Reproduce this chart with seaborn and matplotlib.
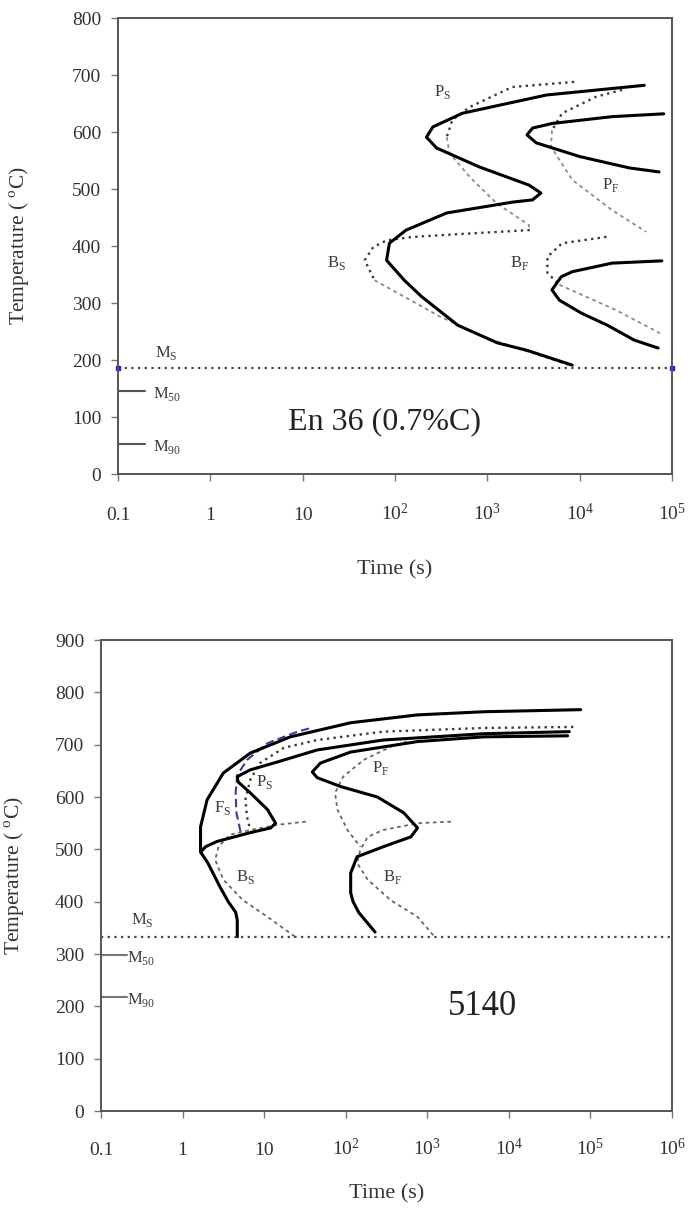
import matplotlib
matplotlib.use("Agg")
import matplotlib.pyplot as plt
from matplotlib.ticker import NullLocator
import seaborn as sns

# ---- En 36 (0.7%C) : time in s, temperature in C ----
en36_ps_bs_solid_t = [50100, 4370, 537, 257, 219, 282, 813, 2820, 3800, 3090, 1860, 363,
                      132, 87, 81, 126, 195, 479, 1290, 2690, 8320]
en36_ps_bs_solid_T = [682, 665, 633, 609, 591, 572, 539, 507, 493, 481, 477, 458,
                      428, 405, 375, 340, 311, 261, 230, 217, 191]

en36_ps_dot_t = [8710, 1860, 646, 417, 363]
en36_ps_dot_T = [688, 679, 644, 621, 591]
en36_ps_dot_low_t = [363, 389, 646, 1260, 2820, 2880]
en36_ps_dot_low_T = [591, 563, 521, 475, 437, 428]

en36_bs_dot_t = [2880, 813, 155, 81, 58, 47, 60]
en36_bs_dot_T = [428, 423, 416, 410, 398, 375, 340]
en36_bs_dot_low_t = [60, 309, 933, 7590]
en36_bs_dot_low_T = [340, 276, 240, 191]

en36_pf_solid_t = [81300, 22400, 5010, 3090, 2690, 3390, 10000, 34700, 72400]
en36_pf_solid_T = [632, 627, 615, 607, 595, 581, 557, 537, 530]

en36_pf_dot_t = [28800, 15100, 6460, 5010]
en36_pf_dot_T = [674, 662, 633, 603]
en36_pf_dot_low_t = [5010, 4900, 8320, 22400, 52500]
en36_pf_dot_low_T = [603, 574, 516, 463, 425]

en36_bf_dot_t = [19500, 6460, 4470, 4470, 6030]
en36_bf_dot_T = [416, 405, 381, 353, 332]
en36_bf_dot_low_t = [6030, 24500, 74100]
en36_bf_dot_low_T = [332, 288, 247]

en36_bf_solid_t = [77600, 22400, 8320, 6310, 5010, 6030, 10500, 20000, 38900, 70800]
en36_bf_solid_T = [374, 370, 355, 346, 323, 305, 282, 261, 235, 221]

en36_ms, en36_m50, en36_m90 = 186, 146, 53

# ---- 5140 ----
s5140_fs_solid_t = [75900, 4900, 759, 115, 20.9, 6.76, 3.16, 2.0, 1.66, 1.66,
                    2.04, 2.88, 3.63, 4.47, 4.68, 4.68]
s5140_fs_solid_T = [767, 763, 757, 742, 715, 684, 646, 595, 543, 495,
                    474, 428, 400, 380, 365, 333]

s5140_ps_solid_t = [55000, 4900, 288, 44.7, 14.5, 6.76, 4.68, 4.79, 6.76, 11.0,
                    13.8, 12.0, 6.76, 2.63, 1.91, 1.66]
s5140_ps_solid_T = [725, 721, 709, 690, 667, 652, 639, 629, 608, 576,
                    550, 541, 532, 515, 505, 495]

s5140_pf_solid_t = [52500, 4900, 759, 115, 49, 38.9, 44.7, 87, 245, 513,
                    759, 631, 288, 138, 115, 115, 123, 145, 229]
s5140_pf_solid_T = [717, 715, 706, 686, 665, 648, 637, 620, 600, 570,
                    541, 524, 505, 486, 455, 417, 400, 379, 342]

s5140_fs_dash_t = [35.5, 25.7, 11.0, 6.17, 4.68, 4.47, 4.57, 5.13]
s5140_fs_dash_T = [731, 725, 703, 671, 642, 608, 570, 534]

s5140_ps_dot_t = [61700, 4900, 288, 44.7, 17.4, 8.9, 6.76, 5.89, 6.17, 6.76]
s5140_ps_dot_T = [734, 732, 725, 709, 694, 665, 633, 595, 562, 537]

s5140_bs_dot_t = [32.4, 14.5, 6.76, 3.8, 2.75, 2.51, 3.16, 5.5, 11.0, 24.0]
s5140_bs_dot_T = [553, 547, 537, 528, 505, 480, 442, 403, 371, 333]

s5140_pf_dot_t = [562, 355, 166, 93, 74, 79, 105, 151]
s5140_pf_dot_T = [706, 696, 671, 639, 608, 576, 537, 505]

s5140_bf_dot_t = [1950, 759, 288, 186, 151, 138, 186, 355, 759, 1230]
s5140_bf_dot_T = [553, 550, 537, 524, 499, 474, 442, 403, 371, 333]

s5140_ms, s5140_m50, s5140_m90 = 333, 298, 218

top_xticks = [0.1, 1, 10, 1e2, 1e3, 1e4, 1e5]
top_xlabels = ["0.1", "1", "10", r"$\mathregular{10^2}$", r"$\mathregular{10^3}$",
               r"$\mathregular{10^4}$", r"$\mathregular{10^5}$"]
bot_xticks = [0.1, 1, 10, 1e2, 1e3, 1e4, 1e5, 1e6]
bot_xlabels = top_xlabels + [r"$\mathregular{10^6}$"]

sns.set_style("white")
plt.rcParams['font.family'] = ['Liberation Serif', 'DejaVu Serif']
plt.rcParams['mathtext.fontset'] = 'custom'
plt.rcParams['mathtext.rm'] = 'Liberation Serif'
plt.rcParams['lines.solid_joinstyle'] = 'round'
plt.rcParams['lines.solid_capstyle'] = 'round'

SOLID = dict(color='black', lw=2.2)
DOT = dict(color='#3a3a3a', lw=1.7, linestyle=(0, (1, 1.8)))
LIGHT = dict(color='#8a8a8a', lw=1.3, linestyle=(0, (2, 2)))
TXT = '#3a3a3a'


def curve(ax, t, T, style):
    sns.lineplot(x=t, y=T, sort=False, estimator=None, ax=ax, **style)


def label(ax, x, y, main, sub, size=12):
    ax.text(x, y, main + r"$_\mathregular{" + sub + "}$", fontsize=size, color=TXT,
            ha='center', va='center')


def style_axes(ax, xmax, ymax, xticks, xlabels, xpad, ylab_x, xlab_y):
    ax.set_xscale('log')
    ax.set_xlim(0.1, xmax)
    ax.set_ylim(0, ymax)
    ax.set_xticks(xticks)
    ax.set_xticklabels(xlabels)
    ax.xaxis.set_minor_locator(NullLocator())
    ax.set_yticks(range(0, ymax + 1, 100))
    ax.tick_params(axis='both', direction='out', length=5, width=1, color='#777777',
                   labelsize=14, labelcolor='#333333', bottom=True, left=True)
    ax.tick_params(axis='x', pad=xpad)
    ax.tick_params(axis='y', pad=7)
    for lb in ax.get_xticklabels():
        lb.set_va('baseline')
    for sp in ax.spines.values():
        sp.set_visible(True)
        sp.set_color('#555555')
        sp.set_linewidth(1.4)
    ax.set_xlabel('Time (s)', fontsize=16, color='#333333')
    ax.set_ylabel(r'Temperature ( $^\mathregular{o}$C)', fontsize=15.5, color='#333333')
    ax.yaxis.set_label_coords(ylab_x, 0.5)
    ax.xaxis.set_label_coords(0.5, xlab_y)


fig = plt.figure(figsize=(6.91, 12.12), dpi=100)
ax1 = fig.add_axes([0.1708, 0.6089, 0.8017, 0.3762])
ax2 = fig.add_axes([0.1462, 0.0833, 0.8263, 0.3886])

# ---- top chart ----
curve(ax1, en36_ps_dot_t, en36_ps_dot_T, DOT)
curve(ax1, en36_ps_dot_low_t, en36_ps_dot_low_T, LIGHT)
curve(ax1, en36_bs_dot_t, en36_bs_dot_T, DOT)
curve(ax1, en36_bs_dot_low_t, en36_bs_dot_low_T, LIGHT)
curve(ax1, en36_pf_dot_t, en36_pf_dot_T, DOT)
curve(ax1, en36_pf_dot_low_t, en36_pf_dot_low_T, LIGHT)
curve(ax1, en36_bf_dot_t, en36_bf_dot_T, DOT)
curve(ax1, en36_bf_dot_low_t, en36_bf_dot_low_T, LIGHT)
curve(ax1, en36_ps_bs_solid_t, en36_ps_bs_solid_T, SOLID)
curve(ax1, en36_pf_solid_t, en36_pf_solid_T, SOLID)
curve(ax1, en36_bf_solid_t, en36_bf_solid_T, SOLID)

ax1.axhline(en36_ms, color='#444444', lw=1.6, linestyle=(0, (1, 2)))
ax1.plot([0.1, 1e5], [en36_ms, en36_ms], 's', color='#1a1aff', ms=3.5, clip_on=False)
for m in (en36_m50, en36_m90):
    ax1.plot([0.1, 0.195], [m, m], color='#555555', lw=1.5)
label(ax1, 0.33, 212, 'M', 'S')
label(ax1, 0.34, 140, 'M', '50')
label(ax1, 0.34, 47, 'M', '90')
label(ax1, 324, 670, 'P', 'S')
label(ax1, 21900, 507, 'P', 'F')
label(ax1, 23.4, 370, 'B', 'S')
label(ax1, 2240, 370, 'B', 'F')
ax1.text(77, 91, 'En 36 (0.7%C)', fontsize=23, color='#222222', ha='center', va='center')
style_axes(ax1, 1e5, 800, top_xticks, top_xlabels, 28, -0.155, -0.19)

# ---- bottom chart ----
curve(ax2, s5140_ps_dot_t, s5140_ps_dot_T, DOT)
curve(ax2, s5140_bs_dot_t, s5140_bs_dot_T, LIGHT | {'color': '#666666'})
curve(ax2, s5140_pf_dot_t, s5140_pf_dot_T, LIGHT | {'color': '#666666'})
curve(ax2, s5140_bf_dot_t, s5140_bf_dot_T, LIGHT | {'color': '#666666'})
curve(ax2, s5140_fs_dash_t, s5140_fs_dash_T, dict(color='#3b3b9e', lw=1.5, linestyle=(0, (4, 2))))
curve(ax2, s5140_fs_solid_t, s5140_fs_solid_T, SOLID)
curve(ax2, s5140_ps_solid_t, s5140_ps_solid_T, SOLID)
curve(ax2, s5140_pf_solid_t, s5140_pf_solid_T, SOLID)

ax2.axhline(s5140_ms, color='#444444', lw=1.6, linestyle=(0, (1, 2)))
for m in (s5140_m50, s5140_m90):
    ax2.plot([0.1, 0.21], [m, m], color='#777777', lw=1.5)
label(ax2, 0.32, 365, 'M', 'S')
label(ax2, 0.31, 292, 'M', '50')
label(ax2, 0.31, 212, 'M', '90')
label(ax2, 10.2, 629, 'P', 'S')
label(ax2, 269, 656, 'P', 'F')
label(ax2, 3.1, 579, 'F', 'S')
label(ax2, 5.9, 447, 'B', 'S')
label(ax2, 372, 447, 'B', 'F')
ax2.text(4790, 199, '5140', fontsize=25, color='#222222', ha='center', va='center')
style_axes(ax2, 1e6, 900, bot_xticks, bot_xlabels, 26.5, -0.13, -0.155)

fig.savefig('out.png', dpi=100)
